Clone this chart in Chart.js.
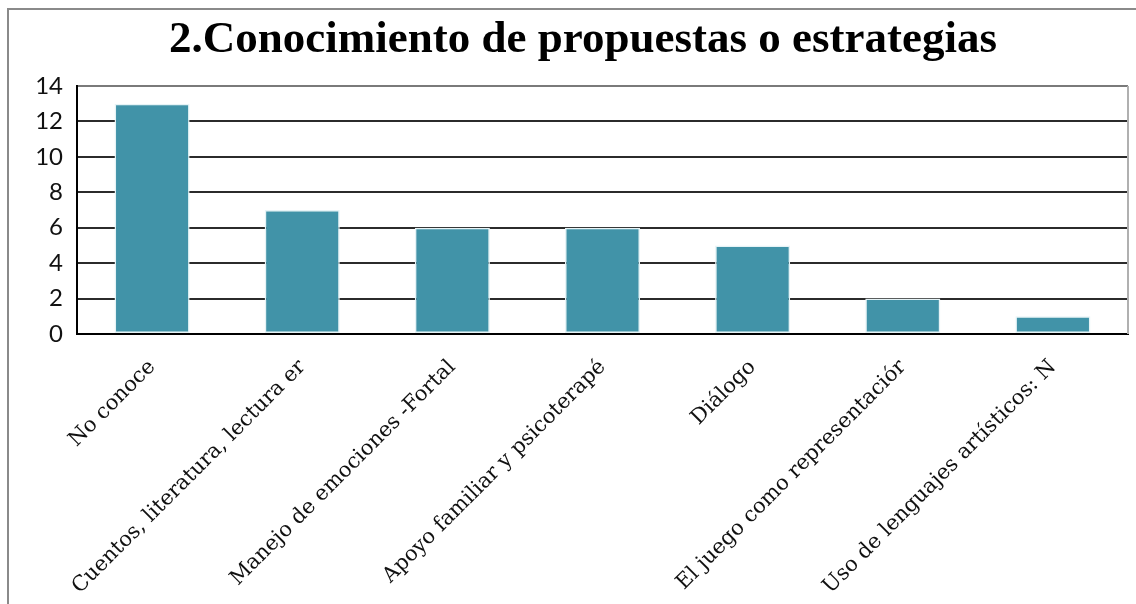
<!DOCTYPE html>
<html>
<head>
<meta charset="utf-8">
<script src="https://cdn.jsdelivr.net/npm/chart.js@4.4.1/dist/chart.umd.min.js"></script>
<style>
  html, body { margin: 0; padding: 0; background: #fff; overflow: hidden; }
  #frame { position: absolute; left: 7px; top: 8px; width: 1200px; height: 700px;
           border-left: 2px solid #8a8a8a; border-top: 2px solid #8a8a8a; }
  #wrap { position: absolute; left: 0; top: 0; width: 1136px; height: 604px; }
</style>
</head>
<body>
<div id="frame"></div>
<div id="wrap"><canvas id="c" width="1136" height="604"></canvas></div>
<script>
const titleText = "2.Conocimiento de propuestas o estrategias";
const categories = [
  "No conoce",
  "Cuentos, literatura, lectura er",
  "Manejo de emociones -Fortal",
  "Apoyo familiar y psicoterapé",
  "Diálogo",
  "El juego como representaciór",
  "Uso de lenguajes artísticos: N"
];
const values = [13, 7, 6, 6, 5, 2, 1];
const yTicks = [0, 2, 4, 6, 8, 10, 12, 14];

const titlePlugin = {
  id: 'customTitle',
  afterDraw(chart) {
    const ctx = chart.ctx;
    ctx.save();
    ctx.font = 'bold 45px "Liberation Serif"';
    ctx.fillStyle = '#000';
    ctx.textAlign = 'center';
    ctx.textBaseline = 'alphabetic';
    ctx.fillText(titleText, 583, 52);
    ctx.restore();
  }
};

new Chart(document.getElementById('c'), {
  type: 'bar',
  data: {
    labels: categories,
    datasets: [{
      data: values,
      backgroundColor: '#4193a8',
      borderColor: '#e6f3f6',
      borderWidth: 1.5,
      borderSkipped: false,
      barPercentage: 0.5,
      categoryPercentage: 1.0
    }]
  },
  options: {
    responsive: false,
    animation: false,
    devicePixelRatio: 1,
    layout: { padding: { top: 86, right: 8, left: 0, bottom: 0 } },
    plugins: { legend: { display: false }, title: { display: false }, tooltip: { enabled: false } },
    scales: {
      x: {
        afterFit(s) { s.height = 270; },
        grid: { display: false, drawTicks: false },
        border: { display: true, color: '#000', width: 2 },
        ticks: {
          autoSkip: false,
          minRotation: 45,
          maxRotation: 45,
          padding: 21,
          color: '#111',
          font: { family: '"DejaVu Serif"', size: 21 }
        }
      },
      y: {
        min: 0,
        max: 14,
        afterFit(s) { s.width = 77; },
        afterBuildTicks(s) { s.ticks = yTicks.map(v => ({ value: v })); },
        grid: {
          drawTicks: false,
          lineWidth: 2,
          color: (c) => c.tick && c.tick.value === 14 ? '#7a7a7a' : (c.tick && c.tick.value === 0 ? '#000' : '#2b2b2b')
        },
        border: { display: true, color: '#000', width: 2 },
        ticks: {
          padding: 14,
          color: '#111',
          font: { family: 'Lato', size: 24 }
        }
      }
    }
  },
  plugins: [titlePlugin, {
    id: 'rightBorder',
    afterDraw(chart) {
      const a = chart.chartArea, ctx = chart.ctx;
      ctx.save();
      ctx.strokeStyle = '#b0b0b0';
      ctx.lineWidth = 2;
      ctx.beginPath();
      ctx.moveTo(a.right, a.top);
      ctx.lineTo(a.right, a.bottom);
      ctx.stroke();
      ctx.restore();
    }
  }]
});
</script>
</body>
</html>
